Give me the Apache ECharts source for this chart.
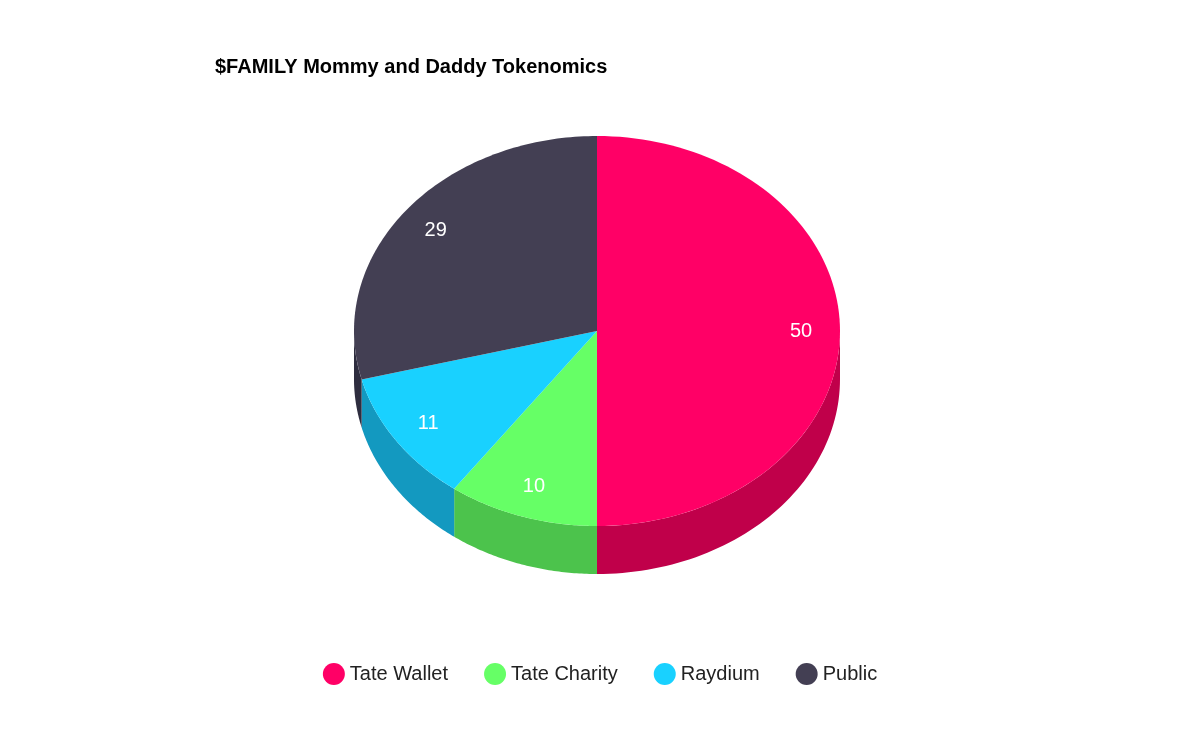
<!DOCTYPE html>
<html><head><meta charset="utf-8">
<script src="https://cdn.jsdelivr.net/npm/echarts@6/dist/echarts.min.js"></script>
<style>html,body{margin:0;background:#fff}#c{width:1200px;height:742px}</style>
</head><body><div id="c"></div>
<script>
const names = ['Tate Wallet','Tate Charity','Raydium','Public'];
const values = [50, 10, 11, 29];
const topColors = ['#ff0066','#66ff66','#19d1ff','#433f53'];
const sideColors = ['#c0004a','#4cc34c','#1399c0','#2e2d3f'];

const total = values.reduce((a,b)=>a+b,0);
const cx = 597, cy = 331, rx = 243, ry = 195, depth = 48;
function pt(t, r, dy){ return [cx + rx*r*Math.sin(t), cy - ry*r*Math.cos(t) + (dy||0)]; }

function makeRender(i){
  return function(params, api){
    let start = 0; for(let k=0;k<i;k++) start += values[k];
    const t0 = start/total*2*Math.PI, t1 = (start+values[i])/total*2*Math.PI;
    const children = [];
    // side wall (front half only)
    const a = Math.max(t0, Math.PI/2), b = Math.min(t1, 3*Math.PI/2);
    if(b > a){
      const pts = [];
      for(let s=0;s<=60;s++){ pts.push(pt(a+(b-a)*s/60,1,0)); }
      for(let s=60;s>=0;s--){ pts.push(pt(a+(b-a)*s/60,1,depth)); }
      children.push({type:'polygon', shape:{points:pts}, style:{fill:sideColors[i]}});
    }
    // inner cut walls visible at front
    const top = [[cx,cy]];
    for(let s=0;s<=100;s++){ top.push(pt(t0+(t1-t0)*s/100,1,0)); }
    children.push({type:'polygon', shape:{points:top}, style:{fill:topColors[i]}});
    const m = (t0+t1)/2, lp = pt(m, 0.84, 0);
    children.push({type:'text', style:{x:lp[0], y:lp[1], text:String(values[i]), fill:'#fff',
      font:'20px "Liberation Sans", Arial', align:'center', verticalAlign:'middle'}});
    return {type:'group', children};
  };
}

const chart = echarts.init(document.getElementById('c'));
chart.setOption({
  animation:false,
  title:{text:'$FAMILY Mommy and Daddy Tokenomics', left:210, top:52,
    textStyle:{fontFamily:'"Liberation Sans", Arial', fontSize:20, fontWeight:'bold', color:'#000'}},
  legend:{bottom:52, left:'center', icon:'circle', itemWidth:22, itemHeight:22, itemGap:36,
    textStyle:{fontFamily:'"Liberation Sans", Arial', fontSize:20, color:'#222'}, data:names},
  series: names.map((n,i)=>({
    type:'custom', name:n, coordinateSystem:'none', data:[[values[i]]],
    itemStyle:{color:topColors[i]}, renderItem:makeRender(i)
  }))
});
</script></body></html>
